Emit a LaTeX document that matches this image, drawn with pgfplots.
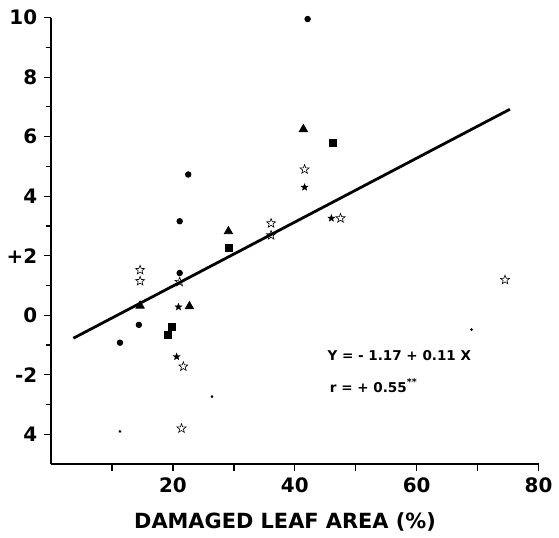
\documentclass[border=0pt]{standalone}
\usepackage{fontspec}
\setmainfont{DejaVu Sans}
\usepackage{pgfplots}
\pgfplotsset{compat=1.18}
\def\starpath{%
 \pgfpathmoveto{\pgfpointpolar{90}{\pgfplotmarksize}}%
 \pgfpathlineto{\pgfpointpolar{126}{0.42\pgfplotmarksize}}%
 \pgfpathlineto{\pgfpointpolar{162}{\pgfplotmarksize}}%
 \pgfpathlineto{\pgfpointpolar{198}{0.42\pgfplotmarksize}}%
 \pgfpathlineto{\pgfpointpolar{234}{\pgfplotmarksize}}%
 \pgfpathlineto{\pgfpointpolar{270}{0.42\pgfplotmarksize}}%
 \pgfpathlineto{\pgfpointpolar{306}{\pgfplotmarksize}}%
 \pgfpathlineto{\pgfpointpolar{342}{0.42\pgfplotmarksize}}%
 \pgfpathlineto{\pgfpointpolar{18}{\pgfplotmarksize}}%
 \pgfpathlineto{\pgfpointpolar{54}{0.42\pgfplotmarksize}}%
 \pgfpathclose}
\pgfdeclareplotmark{ostar}{\starpath\pgfusepathqstroke}
\pgfdeclareplotmark{fstar}{\starpath\pgfusepathqfillstroke}
\begin{document}
\begin{tikzpicture}
\begin{axis}[
 scale only axis, width=245pt, height=224.5pt,
 xmin=0, xmax=80, ymin=-5, ymax=10,
 axis x line*=bottom, axis y line*=left,
 xtick={10,20,...,80}, xticklabels={,20,,40,,60,,80},
 ytick={-4,-2,...,10}, yticklabels={4,-2,0,+2,4,6,8,10},
 minor ytick={-3,-1,...,9},
 tick align=outside, major tick length=3.5pt, minor tick length=2.5pt,
 tick style={black, line width=0.6pt},
 axis line style={line width=0.7pt},
 ticklabel style={font=\bfseries\fontsize{10}{12}\selectfont},
 /pgf/number format/assume math mode=true,
 xlabel={DAMAGED LEAF AREA (\%)},
 xlabel style={font=\bfseries\fontsize{10.5}{12}\selectfont, at={(axis description cs:0.48,0)}, anchor=center, yshift=-29pt},
 clip=false,
]
% regression line
\addplot[black, line width=1.4pt] coordinates {(3.65,-0.77) (75.3,6.92)};
% filled circles
\addplot[only marks, mark=*, mark size=1.4pt, black] coordinates {
 (42.1,9.95) (22.5,4.73) (21.1,3.16) (21.1,1.42) (14.4,-0.32) (11.3,-0.92)};
% filled triangles
\addplot[only marks, mark=triangle*, mark size=2.4pt, black] coordinates {
 (41.4,6.25) (29.1,2.82) (14.6,0.32) (22.7,0.30)};
% filled squares
\addplot[only marks, mark=square*, mark size=1.8pt, black] coordinates {
 (46.3,5.78) (29.2,2.26) (19.8,-0.38) (19.1,-0.65)};
% small filled stars
\addplot[only marks, mark=fstar, mark size=1.8pt, black, mark options={line width=0.2pt}] coordinates {
 (41.6,4.30) (46.0,3.26) (20.9,0.28) (20.6,-1.39)};
% open stars
\addplot[only marks, mark=ostar, mark size=2.4pt, black, mark options={line width=0.3pt}] coordinates {
 (41.6,4.90) (47.5,3.26) (74.5,1.19) (36.1,3.09) (36.1,2.69) (14.6,1.52)
 (14.6,1.15) (21.1,1.12) (21.7,-1.72) (21.4,-3.80)};
% tiny dots
\addplot[only marks, mark=*, mark size=0.45pt, black] coordinates {
 (69.0,-0.48) (26.4,-2.73) (11.3,-3.90)};
\node[anchor=west, font=\bfseries\fontsize{6.8}{8}\selectfont, inner sep=0pt] at (axis cs:45.3,-1.35) {Y = - 1.17 + 0.11 X};
\node[anchor=west, font=\bfseries\fontsize{6.8}{8}\selectfont, inner sep=0pt] at (axis cs:45.7,-2.36) {r = + 0.55\textsuperscript{**}};
\coordinate (bl) at (axis cs:-7.75,-7.21);
\coordinate (tr) at (axis cs:83.3,10.59);
\end{axis}
\path (bl) rectangle (tr);
\end{tikzpicture}
\end{document}
